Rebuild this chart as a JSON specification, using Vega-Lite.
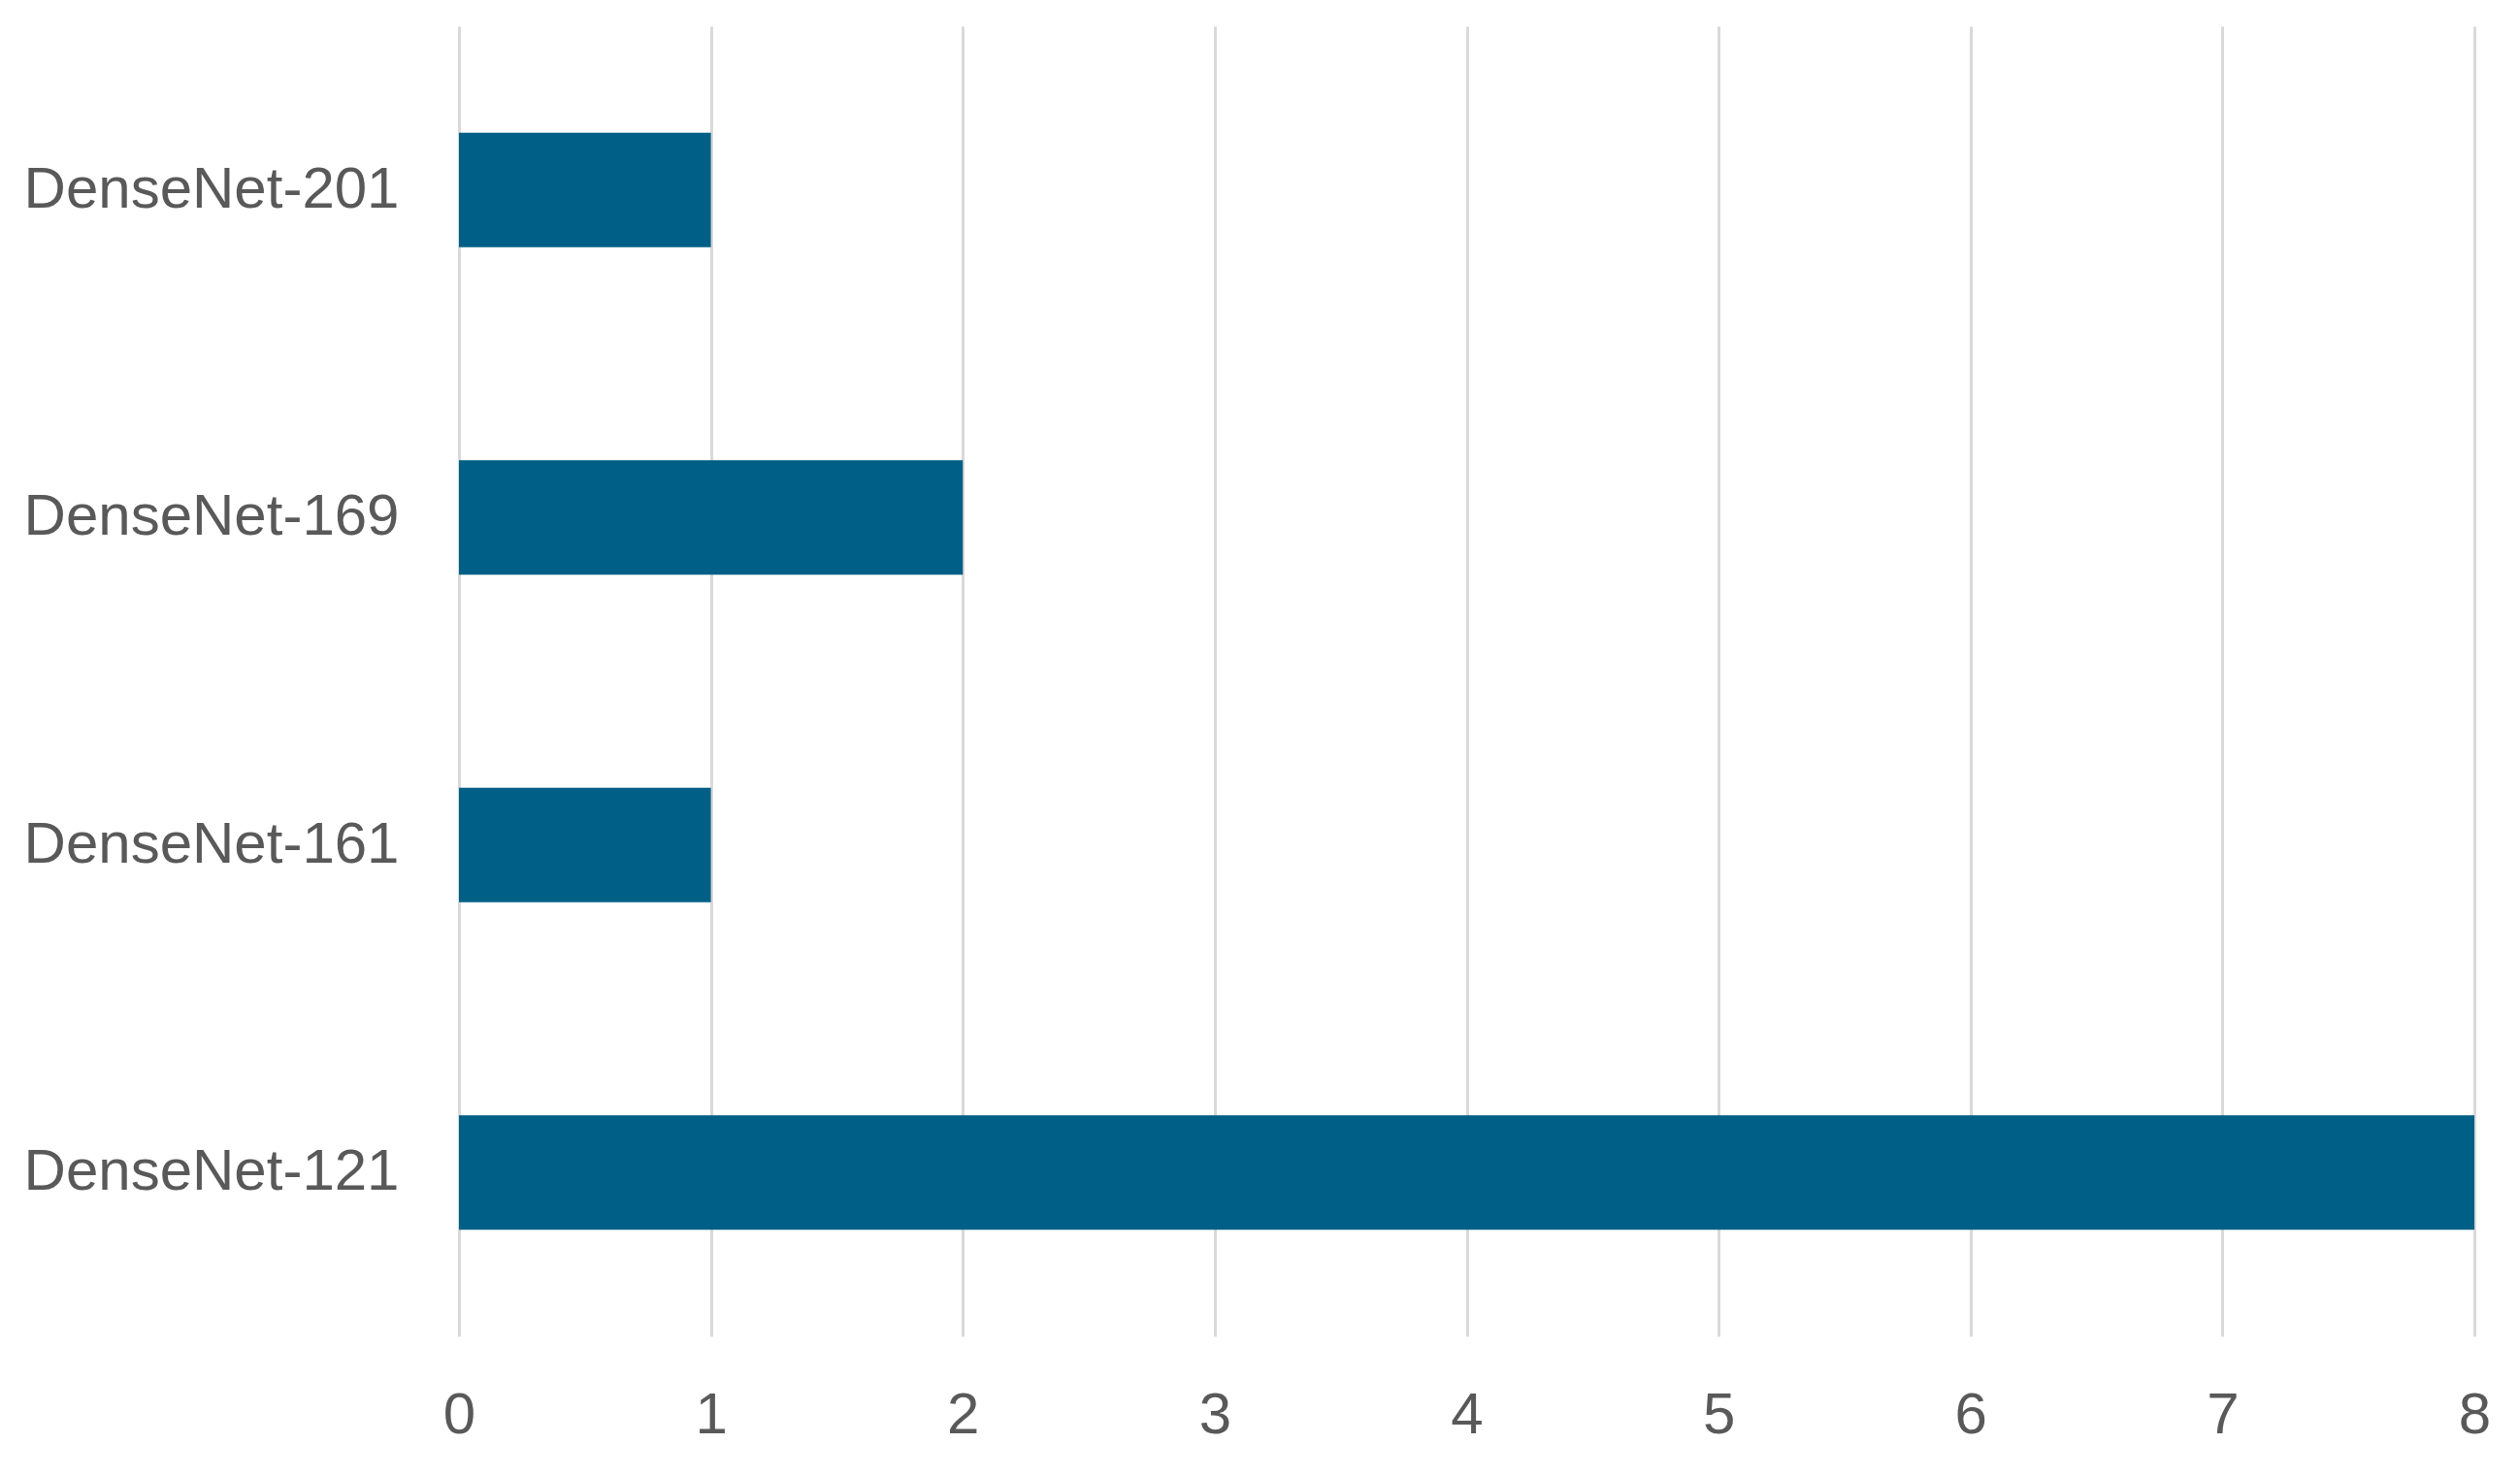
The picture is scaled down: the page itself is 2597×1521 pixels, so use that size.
{
  "$schema": "https://vega.github.io/schema/vega-lite/v6.json",
  "width": 2077,
  "height": 1350,
  "autosize": {"type": "none"},
  "padding": {"left": 473, "top": 27, "right": 47, "bottom": 144},
  "background": "white",
  "data": {
    "values": [
      {"model": "DenseNet-201", "count": 1},
      {"model": "DenseNet-169", "count": 2},
      {"model": "DenseNet-161", "count": 1},
      {"model": "DenseNet-121", "count": 8}
    ]
  },
  "mark": {"type": "bar", "color": "#005F86"},
  "encoding": {
    "y": {
      "field": "model",
      "type": "nominal",
      "sort": ["DenseNet-201", "DenseNet-169", "DenseNet-161", "DenseNet-121"],
      "scale": {"paddingInner": 0.65, "paddingOuter": 0.325},
      "axis": {
        "title": null,
        "domain": false,
        "ticks": false,
        "grid": false,
        "labelFont": "Liberation Sans",
        "labelFontSize": 60,
        "labelColor": "#595959",
        "labelPadding": 62,
        "labelLimit": 1000
      }
    },
    "x": {
      "field": "count",
      "type": "quantitative",
      "scale": {"domain": [0, 8], "nice": false},
      "axis": {
        "title": null,
        "domain": false,
        "ticks": false,
        "grid": true,
        "gridColor": "#D9D9D9",
        "gridWidth": 3,
        "values": [0, 1, 2, 3, 4, 5, 6, 7, 8],
        "labelFont": "Liberation Sans",
        "labelFontSize": 60,
        "labelColor": "#595959",
        "labelPadding": 52,
        "labelFlush": false
      }
    }
  },
  "config": {"view": {"stroke": null}}
}
